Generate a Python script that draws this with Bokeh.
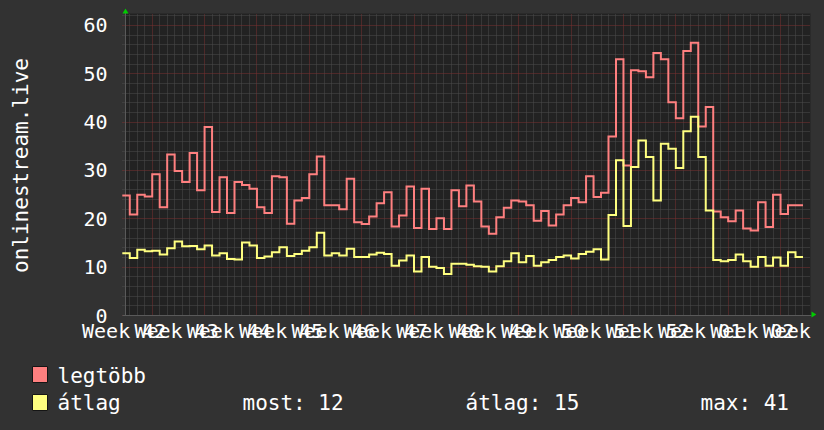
import numpy as np
from bokeh.plotting import figure
from bokeh.models import FixedTicker, BoxAnnotation, Range1d, Grid
from bokeh.core.properties import value
from bokeh.embed import file_html
from bokeh.resources import INLINE

# ---------------- data ----------------
week_labels = ["Week 42", "Week 43", "Week 44", "Week 45", "Week 46", "Week 47",
               "Week 48", "Week 49", "Week 50", "Week 51", "Week 52", "Week 01",
               "Week 02", "Week 03"]

legtobb = [24.8, 20.9, 25.0, 24.6, 29.2, 22.4, 33.3, 29.9, 27.6, 33.6, 25.9, 39.0, 21.4,
           28.6, 21.2, 27.6, 27.0, 26.2, 22.4, 21.2, 28.8, 28.6, 19.0, 23.8, 24.3, 29.2,
           32.9, 22.8, 22.8, 22.0, 28.3, 19.3, 18.9, 20.5, 23.2, 25.5, 18.4, 20.7, 26.7,
           18.1, 26.2, 17.9, 20.1, 17.9, 25.9, 22.6, 26.9, 23.6, 18.4, 16.9, 20.3, 22.3,
           23.8, 23.6, 22.8, 19.6, 21.6, 18.6, 20.9, 22.8, 24.3, 23.4, 28.8, 24.5, 25.4,
           37.0, 53.0, 31.0, 50.7, 50.5, 49.3, 54.3, 53.0, 44.1, 40.8, 54.7, 56.4, 39.1,
           43.1, 21.5, 20.3, 19.5, 21.7, 18.0, 17.6, 23.4, 18.3, 25.0, 21.0, 22.8, 22.8]

atlag = [12.9, 11.9, 13.6, 13.3, 13.4, 12.6, 13.9, 15.3, 14.3, 14.4, 13.7, 14.5, 12.4,
         12.9, 11.7, 11.6, 15.1, 14.5, 11.9, 12.2, 13.1, 14.1, 12.3, 12.7, 13.4, 14.1,
         17.1, 12.4, 12.9, 12.4, 13.8, 12.1, 12.1, 12.6, 13.0, 12.7, 10.3, 11.4, 12.4,
         9.1, 12.1, 10.1, 9.8, 8.6, 10.7, 10.7, 10.5, 10.2, 10.1, 9.1, 10.2, 11.2,
         12.9, 11.0, 12.3, 10.3, 11.0, 11.5, 12.1, 12.4, 11.8, 12.7, 13.2, 13.7, 11.6,
         20.8, 32.1, 18.5, 30.7, 36.2, 32.8, 23.8, 35.5, 34.5, 30.5, 38.1, 41.1, 32.8,
         21.7, 11.5, 11.2, 11.5, 12.6, 11.2, 10.1, 12.1, 10.3, 12.0, 10.3, 13.1, 12.1]

y_ticks = [0, 10, 20, 30, 40, 50, 60]
y_title = "onlinestream.live"
series_names = ["legtöbb", "átlag"]
stat_names = ["most:", "átlag:", "max:"]

# ---------------- styling / geometry (image pixel coordinates) ----------------
BG = "#323232"
PLOT_BG = "#222222"
RED = "#ff8080"
YELLOW = "#ffff80"
TXT = "#ffffff"
MINOR = "#4c4c4c"
MAJOR = "#7a3030"
AXIS = "#5a5a5a"
ARROW = "#00cc00"
FONT = "DejaVu Sans Mono"

MARGIN = 8
W_IMG, H_IMG = 824, 430
ZERO_PX = 315                             # image y of value 0
AREA_L, AREA_R, AREA_T = 125, 810, 13     # dark graph area (image px)
TICK_L = 122                              # grid marks start left of the axis
PX_PER_DAY = 7.48
DAY0_PX = 121.8
PX_PER_UNIT = 4.835


def dx(px):
    return (px - DAY0_PX) / PX_PER_DAY


def dy(py):
    return (ZERO_PX - py) / PX_PER_UNIT


fig_w = W_IMG - 2 * MARGIN
fig_h = H_IMG - 2 * MARGIN

p = figure(width=fig_w, height=fig_h, output_backend="svg", toolbar_location=None,
           x_range=Range1d(dx(MARGIN), dx(W_IMG - MARGIN)),
           y_range=Range1d(dy(H_IMG - MARGIN), dy(MARGIN)),
           x_axis_type=None, y_axis_type=None)
p.border_fill_color = BG
p.background_fill_color = BG
p.outline_line_color = None
p.min_border_left = p.min_border_right = 0
p.min_border_top = p.min_border_bottom = 0

# dark graph area
p.add_layout(BoxAnnotation(left=dx(AREA_L), right=dx(AREA_R), bottom=0, top=dy(AREA_T),
                           fill_color=PLOT_BG, fill_alpha=1, line_color=None,
                           level="image"))

n = len(legtobb)
days = np.arange(n + 1)
week_grid = [d for d in range(4, n + 1, 7)]
day_grid = [d for d in range(1, n + 1) if d not in week_grid]
label_pos = [0.25 + 7 * k for k in range(len(week_labels))]
y_minor = [v for v in range(2, 63, 2) if v % 10 != 0]

# grids
xg = Grid(dimension=0, ticker=FixedTicker(ticks=week_grid, minor_ticks=day_grid),
          grid_line_color=MAJOR, grid_line_dash="1 1",
          minor_grid_line_color=MINOR, minor_grid_line_dash="1 1")
yg = Grid(dimension=1, ticker=FixedTicker(ticks=y_ticks, minor_ticks=y_minor),
          grid_line_color=MAJOR, grid_line_dash="1 1",
          minor_grid_line_color=MINOR, minor_grid_line_dash="1 1")
xg.cross_bounds = (0, dy(AREA_T))
yg.cross_bounds = (dx(TICK_L), dx(AREA_R))
p.add_layout(xg)
p.add_layout(yg)

# axis lines
p.segment(x0=[dx(TICK_L), dx(AREA_L)], y0=[0, 0], x1=[dx(811), dx(AREA_L)], y1=[0, dy(11)],
          line_color=AXIS, line_width=1)

# y tick labels on the value scale
p.text(x=[dx(107)] * len(y_ticks), y=y_ticks, text=[str(t) for t in y_ticks],
       text_align="right", text_baseline="middle", text_font=value(FONT),
       text_font_size="20px", text_color=TXT)

# week labels on the time scale (overlapping, as in the original)
p.text(x=label_pos, y=[dy(330)] * len(label_pos), text=week_labels,
       text_align="center", text_baseline="middle", text_font=value(FONT),
       text_font_size="20px", text_color=TXT)

# y title
p.text(x=[dx(20.5)], y=[dy(165)], text=[y_title], angle=np.pi / 2, text_align="center",
       text_baseline="middle", text_font=value(FONT), text_font_size="21px",
       text_color=TXT)

# series
p.step(days, legtobb + [legtobb[-1]], mode="after", line_color=RED, line_width=2,
       line_join="miter")
p.step(days, atlag + [atlag[-1]], mode="after", line_color=YELLOW, line_width=2,
       line_join="miter")

# axis arrows
p.patches(xs=[[dx(122), dx(125), dx(128)], [dx(811), dx(816), dx(811)]],
          ys=[[dy(13), dy(8), dy(13)], [dy(311), dy(314), dy(317)]],
          fill_color=ARROW, line_color=None)

# legend
p.quad(left=[dx(32)] * 2, right=[dx(47)] * 2, top=[dy(366), dy(394)],
       bottom=[dy(382), dy(410)], fill_color=[RED, YELLOW], line_color="#151515",
       line_width=1)

stat_vals = [atlag[-1], float(np.mean(atlag)), max(atlag)]
texts = series_names + [f"{nm} {round(v):d}" for nm, v in zip(stat_names, stat_vals)]
p.text(x=[dx(57), dx(57), dx(242), dx(465), dx(700)],
       y=[dy(375), dy(402), dy(402), dy(402), dy(402)], text=texts,
       text_align="left", text_baseline="middle", text_font=value(FONT),
       text_font_size="21px", text_color=TXT)

html = file_html(p, INLINE, title="onlinestream.live")
i = html.rfind("<body")
j = html.find(">", i)
html = html[:i] + '<body style="margin:8px;background-color:%s;">' % BG + html[j + 1:]
open("out.html", "w").write(html)
